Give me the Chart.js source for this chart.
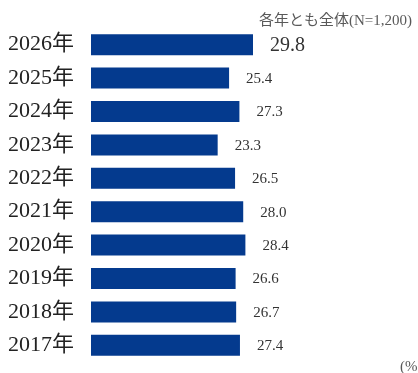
<!DOCTYPE html>
<html>
<head>
<meta charset="utf-8">
<script src="https://cdn.jsdelivr.net/npm/chart.js@4"></script>
<style>
  body { margin: 0; background: #fff; }
  #wrap { width: 418px; height: 373px; position: relative; }
</style>
</head>
<body>
<div id="wrap"><canvas id="chart1"></canvas></div>
<script>
const years = ['2026年', '2025年', '2024年', '2023年', '2022年', '2021年', '2020年', '2019年', '2018年', '2017年'];
const values = [29.8, 25.4, 27.3, 23.3, 26.5, 28.0, 28.4, 26.6, 26.7, 27.4];
const noteText = '各年とも全体(N=1,200)';
const unitText = '(%)';

const serif = '"Liberation Serif", "DejaVu Serif", "Noto Sans CJK JP", serif';

// value labels + notes
const labelPlugin = {
  id: 'labels',
  afterDatasetsDraw(chart) {
    const ctx = chart.ctx;
    const meta = chart.getDatasetMeta(0);
    ctx.save();
    ctx.textBaseline = 'middle';
    ctx.textAlign = 'left';
    meta.data.forEach((bar, i) => {
      ctx.fillStyle = '#333';
      ctx.font = (i === 0 ? '20px ' : '15px ') + serif;
      ctx.fillText(values[i].toFixed(1), bar.x + 17, bar.y + 1);
    });
    ctx.fillStyle = '#595959';
    ctx.font = '15px ' + serif;
    ctx.textAlign = 'right';
    ctx.fillText(noteText, 412, 21);
    ctx.textAlign = 'left';
    ctx.fillText(unitText, 400, 367);
    ctx.restore();
  }
};

const cfg1 = {
  type: 'bar',
  data: {
    labels: years,
    datasets: [
      { data: values, backgroundColor: '#043A8E', barPercentage: 0.63, categoryPercentage: 1 }
    ]
  },
  options: {
    indexAxis: 'y',
    responsive: true,
    maintainAspectRatio: false,
    animation: false,
    layout: { padding: { top: 28, bottom: 11, left: 8, right: 28 } },
    plugins: { legend: { display: false }, tooltip: { enabled: false } },
    scales: {
      x: { display: false, min: 0, max: 55 },
      y: {
        afterFit(scale) {
          scale.width = 83;
          scale.paddingTop = 0;
          scale.paddingBottom = 0;
        },
        grid: { display: false, drawTicks: false },
        border: { display: false },
        ticks: { color: '#222', font: { family: serif, size: 22 }, padding: 17 }
      }
    }
  },
  plugins: [labelPlugin]
};

const chart1 = new Chart(document.getElementById('chart1').getContext('2d'), cfg1);
</script>
</body>
</html>
